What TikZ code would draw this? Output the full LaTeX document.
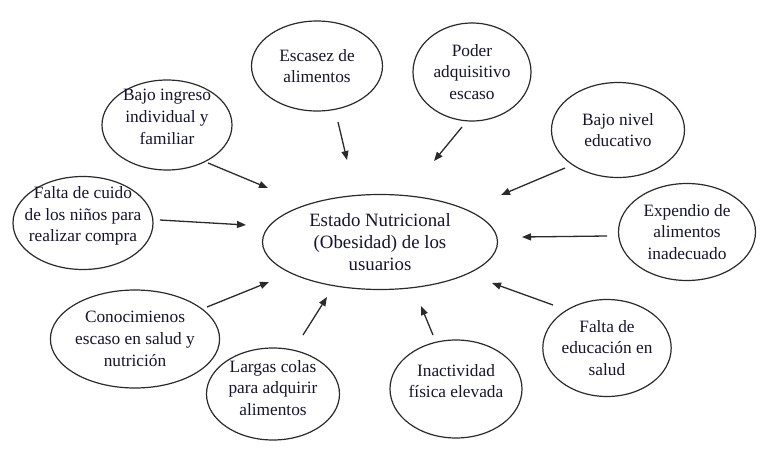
\documentclass[tikz,border=0pt]{standalone}
\usepackage{fontspec}
\setmainfont{Liberation Serif}
\usetikzlibrary{shapes.geometric,arrows.meta}
\definecolor{txt}{HTML}{14142E}
\definecolor{ln}{HTML}{2A2A2A}
\tikzset{
  el/.style={ellipse, draw=ln, line width=1.2pt, inner sep=0pt, align=center,
    text=txt, font=\fontsize{17.3}{21.7}\selectfont},
  tx/.style={inner sep=0pt, align=center, text=txt, font=\fontsize{17.3}{21.7}\selectfont},
  arr/.style={draw=ln, line width=1.3pt, -{Triangle[length=9pt,width=7pt]}}
}
\begin{document}
\begin{tikzpicture}[x=1pt,y=-1pt]
\path[use as bounding box] (0,0) rectangle (766,450);
% central
\node[el, minimum width=235pt, minimum height=95pt, font=\fontsize{18.8}{22.3}\selectfont] (c) at (380,242) {Estado Nutricional\\(Obesidad) de los\\usuarios};
% surrounding
\node[el, minimum width=130pt, minimum height=90pt] (ingreso) at (167,125) {};
\node[tx] (ingresoT) at (167,117) {Bajo ingreso\\individual y\\familiar};
\node[el, minimum width=131pt, minimum height=90pt] (escasez) at (317,66) {Escasez de\\alimentos};
\node[el, minimum width=118pt, minimum height=98pt] (poder) at (472,72) {Poder\\adquisitivo\\escaso};
\node[el, minimum width=133pt, minimum height=95pt] (nivel) at (618,130) {Bajo nivel\\educativo};
\node[el, minimum width=137pt, minimum height=97pt] (expendio) at (687,232) {Expendio de\\alimentos\\inadecuado};
\node[el, minimum width=140pt, minimum height=93pt] (cuido) at (83,223) {};
\node[tx] (cuidoT) at (83,216) {Falta de cuido\\de los niños para\\realizar compra};
\node[el, minimum width=134pt, minimum height=98pt] (conoc) at (135,339) {Conocimienos\\escaso en salud y\\nutrición};
\node[el, minimum width=133pt, minimum height=92pt] (colas) at (273,394) {};
\node[tx] (colasT) at (273,388) {Largas colas\\para adquirir\\alimentos};
\node[el, minimum width=132pt, minimum height=98pt] (inact) at (456,389) {};
\node[tx] (inactT) at (456,381) {Inactividad\\física elevada};
\node[el, minimum width=125pt, minimum height=97pt] (edu) at (607,348) {Falta de\\educación en\\salud};
% arrow endpoints
\coordinate (a1s) at (208,163); \coordinate (a1e) at (268,188);
\coordinate (a2s) at (338,122); \coordinate (a2e) at (347,160);
\coordinate (a3s) at (462,127); \coordinate (a3e) at (434,161);
\coordinate (a4s) at (565,168); \coordinate (a4e) at (501,195);
\coordinate (a5s) at (607,236); \coordinate (a5e) at (522,237);
\coordinate (a6s) at (160,220); \coordinate (a6e) at (246,225);
\coordinate (a7s) at (207,307); \coordinate (a7e) at (269,282);
\coordinate (a8s) at (303,335); \coordinate (a8e) at (327,297);
\coordinate (a9s) at (433,335); \coordinate (a9e) at (421,306);
\coordinate (a10s) at (553,305); \coordinate (a10e) at (492,283);
\foreach \i in {1,...,10} {\draw[arr] (a\i s) -- (a\i e);}
\end{tikzpicture}
\end{document}
